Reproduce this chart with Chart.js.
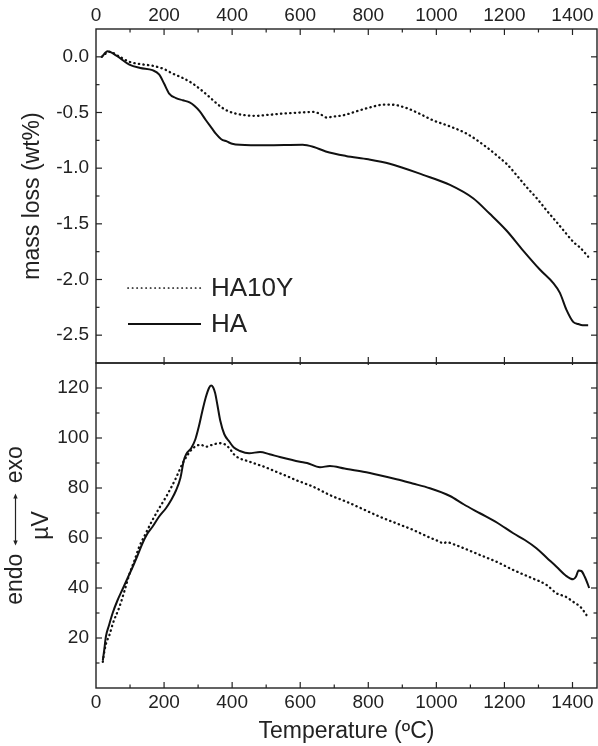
<!DOCTYPE html>
<html>
<head>
<meta charset="utf-8">
<script src="https://cdn.jsdelivr.net/npm/chart.js@4.4.1/dist/chart.umd.min.js"></script>
<style>
  html, body { margin: 0; padding: 0; background: #fff; }
  #wrap { position: relative; width: 598px; height: 746px; }
  canvas { position: absolute; left: 0; }
  #tgCanvas { top: 0; }
  #dtaCanvas { top: 360px; }
</style>
</head>
<body>
<div id="wrap">
  <canvas id="tgCanvas" width="598" height="366"></canvas>
  <canvas id="dtaCanvas" width="598" height="386"></canvas>
</div>
<script>
// [temperature ºC, mass loss wt%]
const haMass = [
  [17, 0.0], [34, 0.05], [60, 0.01], [98, -0.07], [130, -0.1], [166, -0.12], [186, -0.16],
  [200, -0.24], [215, -0.33], [235, -0.37], [255, -0.39], [275, -0.41], [289, -0.44],
  [305, -0.49], [323, -0.57], [340, -0.64], [352, -0.69], [368, -0.74], [384, -0.76],
  [400, -0.78], [423, -0.79], [500, -0.795], [607, -0.79], [640, -0.81], [675, -0.85],
  [734, -0.89], [800, -0.92], [863, -0.96], [961, -1.06], [1040, -1.15], [1108, -1.27],
  [1157, -1.41], [1206, -1.56], [1255, -1.74], [1304, -1.91], [1343, -2.03], [1363, -2.12],
  [1382, -2.27], [1402, -2.38], [1417, -2.40], [1430, -2.41], [1446, -2.41]
];
const ha10yMass = [
  [17, 0.0], [39, 0.045], [70, 0.0], [98, -0.045], [130, -0.065], [166, -0.08], [200, -0.11],
  [225, -0.15], [255, -0.19], [284, -0.24], [310, -0.3], [333, -0.36], [355, -0.42],
  [372, -0.46], [390, -0.49], [411, -0.51], [440, -0.525], [470, -0.53], [510, -0.52],
  [548, -0.51], [600, -0.5], [640, -0.495], [662, -0.52], [677, -0.545], [700, -0.535],
  [726, -0.525], [775, -0.48], [810, -0.45], [844, -0.43], [870, -0.43], [912, -0.46],
  [950, -0.51], [990, -0.57], [1040, -0.625], [1089, -0.69], [1147, -0.81], [1187, -0.91],
  [1206, -0.96], [1235, -1.06], [1265, -1.17], [1295, -1.27], [1324, -1.38], [1355, -1.49],
  [1382, -1.59], [1405, -1.67], [1421, -1.71], [1446, -1.795]
];
// [temperature ºC, DTA µV]
const haDta = [
  [20, 11], [24, 15], [29, 20.5], [38, 25], [49, 30], [63, 35], [78, 39.5], [93, 44],
  [108, 48.5], [122, 53], [137, 58], [150, 61.5], [166, 64.5], [185, 68.5], [206, 72],
  [220, 75], [235, 79], [248, 84], [258, 91], [265, 93.5], [280, 96], [292, 99.5],
  [302, 104.5], [312, 110.5], [322, 116], [332, 120], [338, 121], [344, 120.3], [350, 118],
  [357, 113], [365, 107], [377, 101.5], [392, 98.5], [405, 96.2], [423, 94.8], [450, 93.9],
  [482, 94.4], [510, 93.5], [540, 92.4], [599, 90.5], [620, 90], [658, 88.3], [687, 88.8],
  [730, 87.8], [785, 86.5], [830, 85.2], [883, 83.5], [930, 81.8], [981, 79.9], [1040, 76.8],
  [1080, 73.5], [1128, 69.9], [1180, 66], [1226, 61.9], [1260, 59.2], [1294, 55.9],
  [1325, 52], [1353, 48.5], [1380, 45], [1402, 43.5], [1410, 44.5], [1418, 47],
  [1426, 46.8], [1436, 44.5], [1445, 41.5], [1449, 40]
];
const ha10yDta = [
  [20, 10.5], [25, 15], [30, 18], [39, 21], [50, 26], [69, 32.5], [84, 39], [98, 45.5],
  [113, 51], [127, 56.5], [145, 61.5], [166, 67.2], [186, 72], [206, 76.5], [220, 80],
  [235, 84], [255, 90], [269, 93.2], [282, 95.5], [294, 96.8], [308, 97.3], [323, 96.5],
  [340, 97.2], [362, 97.9], [378, 97.5], [392, 95.9], [405, 93.5], [421, 91.9], [445, 90.8],
  [470, 89.6], [500, 88.2], [529, 86.5], [560, 84.8], [587, 83.2], [638, 80.5], [690, 77],
  [736, 74.5], [785, 71.5], [834, 68.5], [880, 66], [932, 63.2], [980, 60.2], [1010, 58.5],
  [1020, 57.8], [1030, 58.3], [1060, 57], [1128, 53.2], [1180, 50.3], [1226, 47.2],
  [1280, 44], [1324, 41.2], [1353, 37.9], [1380, 36.5], [1402, 34.5], [1425, 32.2],
  [1441, 29.2]
];

const xTicks = [0, 200, 400, 600, 800, 1000, 1200, 1400];
const xMinorTicks = [100, 300, 500, 700, 900, 1100, 1300];
const massTicks = [0, -0.5, -1.0, -1.5, -2.0, -2.5];
const massMinorTicks = [-0.25, -0.75, -1.25, -1.75, -2.25];
const dtaTicks = [20, 40, 60, 80, 100, 120];
const dtaMinorTicks = [10, 30, 50, 70, 90, 110];

Chart.defaults.font.family = "'Liberation Sans', Arial, sans-serif";
Chart.defaults.color = '#222';

const toXY = arr => arr.map(p => ({ x: p[0], y: p[1] }));
const INK = '#111';

const solid = { borderColor: INK, borderWidth: 2, pointRadius: 0, cubicInterpolationMode: 'monotone' };
const dotted = { borderColor: INK, borderWidth: 2.3, pointRadius: 0, cubicInterpolationMode: 'monotone',
  borderDash: [0.4, 4.2], borderCapStyle: 'round' };

// frame + inward ticks drawn through the chart's scales
const framePlugin = {
  id: 'frame',
  afterDraw(chart, args, o) {
    const { ctx, chartArea: a } = chart;
    const xs = chart.scales.x, ys = chart.scales.y;
    ctx.save();
    ctx.strokeStyle = '#222';
    ctx.lineWidth = 1.4;
    ctx.strokeRect(a.left, a.top, a.right - a.left, a.bottom - a.top);
    ctx.lineWidth = 1.2;
    const seg = (x1, y1, x2, y2) => { ctx.beginPath(); ctx.moveTo(x1, y1); ctx.lineTo(x2, y2); ctx.stroke(); };
    const yt = (vals, len) => vals.forEach(v => {
      const p = ys.getPixelForValue(v);
      seg(a.left, p, a.left + len, p);
      seg(a.right, p, a.right - len, p);
    });
    yt(o.yMajor, 6); yt(o.yMinor, 3.5);
    const xt = (vals, len, edge) => vals.forEach(v => {
      const p = xs.getPixelForValue(v);
      if (p <= a.left + 1 || len <= 0) return;
      if (edge === 'top') seg(p, a.top, p, a.top + len);
      else seg(p, a.bottom, p, a.bottom - len);
    });
    xt(xTicks, o.top[0], 'top'); xt(xMinorTicks, o.top[1], 'top');
    xt(xTicks, o.bottom[0], 'bottom'); xt(xMinorTicks, o.bottom[1], 'bottom');
    ctx.restore();
  }
};

// legend inside the upper panel
const legendPlugin = {
  id: 'inLegend',
  afterDraw(chart, args, o) {
    if (!o.show) return;
    const { ctx, chartArea: a } = chart;
    ctx.save();
    ctx.font = "26px 'Liberation Sans', Arial, sans-serif";
    ctx.textBaseline = 'middle';
    chart.data.datasets.forEach((ds, i) => {
      const y = a.bottom - 75 + i * 36;
      ctx.strokeStyle = INK;
      ctx.lineWidth = ds.borderDash ? 1.7 : 2;
      ctx.lineCap = ds.borderDash ? 'round' : 'butt';
      ctx.setLineDash(ds.borderDash ? [0.3, 4.2] : []);
      ctx.beginPath(); ctx.moveTo(a.left + 32, y); ctx.lineTo(a.left + 105, y); ctx.stroke();
      ctx.fillStyle = '#222';
      ctx.fillText(ds.label, a.left + 115, y + 1);
    });
    ctx.restore();
  }
};

// double arrow between "endo" and "exo"
const arrowPlugin = {
  id: 'endoExo',
  afterDraw(chart, args, o) {
    if (!o.show) return;
    const { ctx, chartArea: a } = chart;
    const cy = (a.top + a.bottom) / 2;
    const x = 15.5, y1 = cy - 32, y2 = cy + 20;
    ctx.save();
    ctx.strokeStyle = '#222'; ctx.fillStyle = '#222'; ctx.lineWidth = 1.2;
    ctx.beginPath(); ctx.moveTo(x, y1 + 3); ctx.lineTo(x, y2 - 3); ctx.stroke();
    ctx.beginPath(); ctx.moveTo(x, y1); ctx.lineTo(x - 2.2, y1 + 5); ctx.lineTo(x + 2.2, y1 + 5); ctx.fill();
    ctx.beginPath(); ctx.moveTo(x, y2); ctx.lineTo(x - 2.2, y2 - 5); ctx.lineTo(x + 2.2, y2 - 5); ctx.fill();
    ctx.restore();
  }
};

const tickFont = { size: 19 };
const titleFont = { size: 23, lineHeight: 1.15 };

function noPad(s) {
  s.paddingTop = 0; s.paddingBottom = 0; s.paddingLeft = 0; s.paddingRight = 0;
}

function xScale(position, height, showTitle) {
  return {
    type: 'linear', position: position, min: 0, max: 1472,
    grid: { display: false, drawTicks: false }, border: { display: false },
    afterBuildTicks: s => { s.ticks = xTicks.map(v => ({ value: v })); },
    afterFit: s => { s.height = height; noPad(s); },
    ticks: { font: tickFont, padding: position === 'top' ? 2 : 3, maxRotation: 0, autoSkip: false,
      callback: v => String(v) },
    title: { display: showTitle, text: 'Temperature (ºC)', font: titleFont, padding: { top: 0, bottom: 1 } }
  };
}

function yScale(min, max, ticks, fmt, title, titlePad) {
  return {
    type: 'linear', min: min, max: max,
    grid: { display: false, drawTicks: false }, border: { display: false },
    afterBuildTicks: s => { s.ticks = ticks.map(v => ({ value: v })); },
    afterFit: s => { s.width = 96; noPad(s); },
    ticks: { font: tickFont, padding: 7, autoSkip: false, callback: fmt },
    title: { display: true, text: title, font: titleFont, padding: { top: titlePad, bottom: 0 } }
  };
}

new Chart(document.getElementById('tgCanvas'), {
  type: 'line',
  data: {
    datasets: [
      Object.assign({ label: 'HA10Y', data: toXY(ha10yMass) }, dotted),
      Object.assign({ label: 'HA', data: toXY(haMass) }, solid)
    ]
  },
  options: {
    responsive: false, animation: false, devicePixelRatio: 1,
    layout: { padding: { left: 0, right: 1, top: 0, bottom: 3 } },
    scales: {
      x: xScale('top', 29, false),
      y: yScale(-2.75, 0.25, massTicks, v => v.toFixed(1), 'mass loss (wt%)', 19)
    },
    plugins: {
      legend: { display: false }, tooltip: { enabled: false },
      frame: { yMajor: massTicks, yMinor: massMinorTicks, top: [6, 3.5], bottom: [6, 0] },
      inLegend: { show: true }, endoExo: { show: false }
    }
  },
  plugins: [framePlugin, legendPlugin, arrowPlugin]
});

new Chart(document.getElementById('dtaCanvas'), {
  type: 'line',
  data: {
    datasets: [
      Object.assign({ label: 'HA10Y', data: toXY(ha10yDta) }, dotted),
      Object.assign({ label: 'HA', data: toXY(haDta) }, solid)
    ]
  },
  options: {
    responsive: false, animation: false, devicePixelRatio: 1,
    layout: { padding: { left: 0, right: 1, top: 3, bottom: 0 } },
    scales: {
      x: xScale('bottom', 58, true),
      y: yScale(0, 130, dtaTicks, v => String(v), ['endo           exo', 'µV'], 2)
    },
    plugins: {
      legend: { display: false }, tooltip: { enabled: false },
      frame: { yMajor: dtaTicks, yMinor: dtaMinorTicks, top: [2, 0], bottom: [6, 3.5] },
      inLegend: { show: false }, endoExo: { show: true }
    }
  },
  plugins: [framePlugin, legendPlugin, arrowPlugin]
});
</script>
</body>
</html>
